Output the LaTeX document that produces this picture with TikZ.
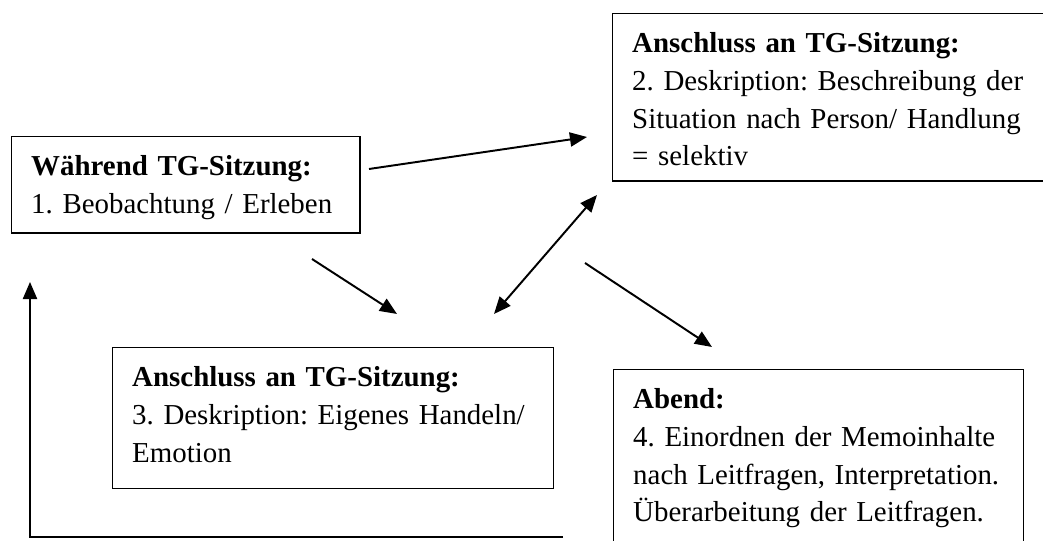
\documentclass[tikz,border=0pt]{standalone}
\usepackage{fontspec}
\setmainfont{Liberation Serif}
\usetikzlibrary{arrows.meta}
\frenchspacing
\hyphenpenalty=10000

\begin{document}
\begin{tikzpicture}[
    x=0.41pt, y=-0.41pt,
    box/.style={draw, line width=0.6pt, anchor=north west, align=left,
        inner xsep=8pt, inner ysep=7.4pt, text height=8.6pt,
        font=\fontsize{11.85pt}{15.45pt}\selectfont},
    link/.style={line width=0.8pt, -{Triangle[length=7pt, width=5.8pt]}},
    twolink/.style={line width=0.8pt, {Triangle[length=7pt, width=5.8pt]}-{Triangle[length=7pt, width=5.8pt]}}
]
\clip (0,0) rectangle (1043,541);

% Boxes
\node[box, text width=126.7pt, text depth=16pt] (during) at (11,136)
    {\textbf{Während TG-Sitzung:}\\1. Beobachtung / Erleben};
\node[box, text width=170pt, text depth=45.1pt] (after2) at (612,13)
    {\textbf{Anschluss an TG-Sitzung:}\\2. Deskription: Beschreibung der\\Situation nach Person/ Handlung\\= selektiv};
\node[box, text width=164.8pt, text depth=34.4pt] (after3) at (112,347)
    {\textbf{Anschluss an TG-Sitzung:}\\3. Deskription: Eigenes Handeln/\\Emotion};
\node[box, text width=152.1pt, text depth=55pt] (evening) at (613,369)
    {\textbf{Abend:}\\4. Einordnen der Memoinhalte\\nach Leitfragen, Interpretation.\\Überarbeitung der Leitfragen.};

% Arrow ends
\coordinate (a1s) at (369,169);
\coordinate (a1e) at (587,137);
\coordinate (a2s) at (312,259);
\coordinate (a2e) at (397,314);
\coordinate (a3s) at (494,314);
\coordinate (a3e) at (597,195);
\coordinate (a4s) at (585,263);
\coordinate (a4e) at (712,347);
\coordinate (ls) at (563,537);
\coordinate (lc) at (30,537);
\coordinate (le) at (30,282);

% Arrows
\draw[link] (a1s) -- (a1e);
\draw[link] (a2s) -- (a2e);
\draw[twolink] (a3s) -- (a3e);
\draw[link] (a4s) -- (a4e);
\draw[link] (ls) -- (lc) -- (le);

\end{tikzpicture}
\end{document}
